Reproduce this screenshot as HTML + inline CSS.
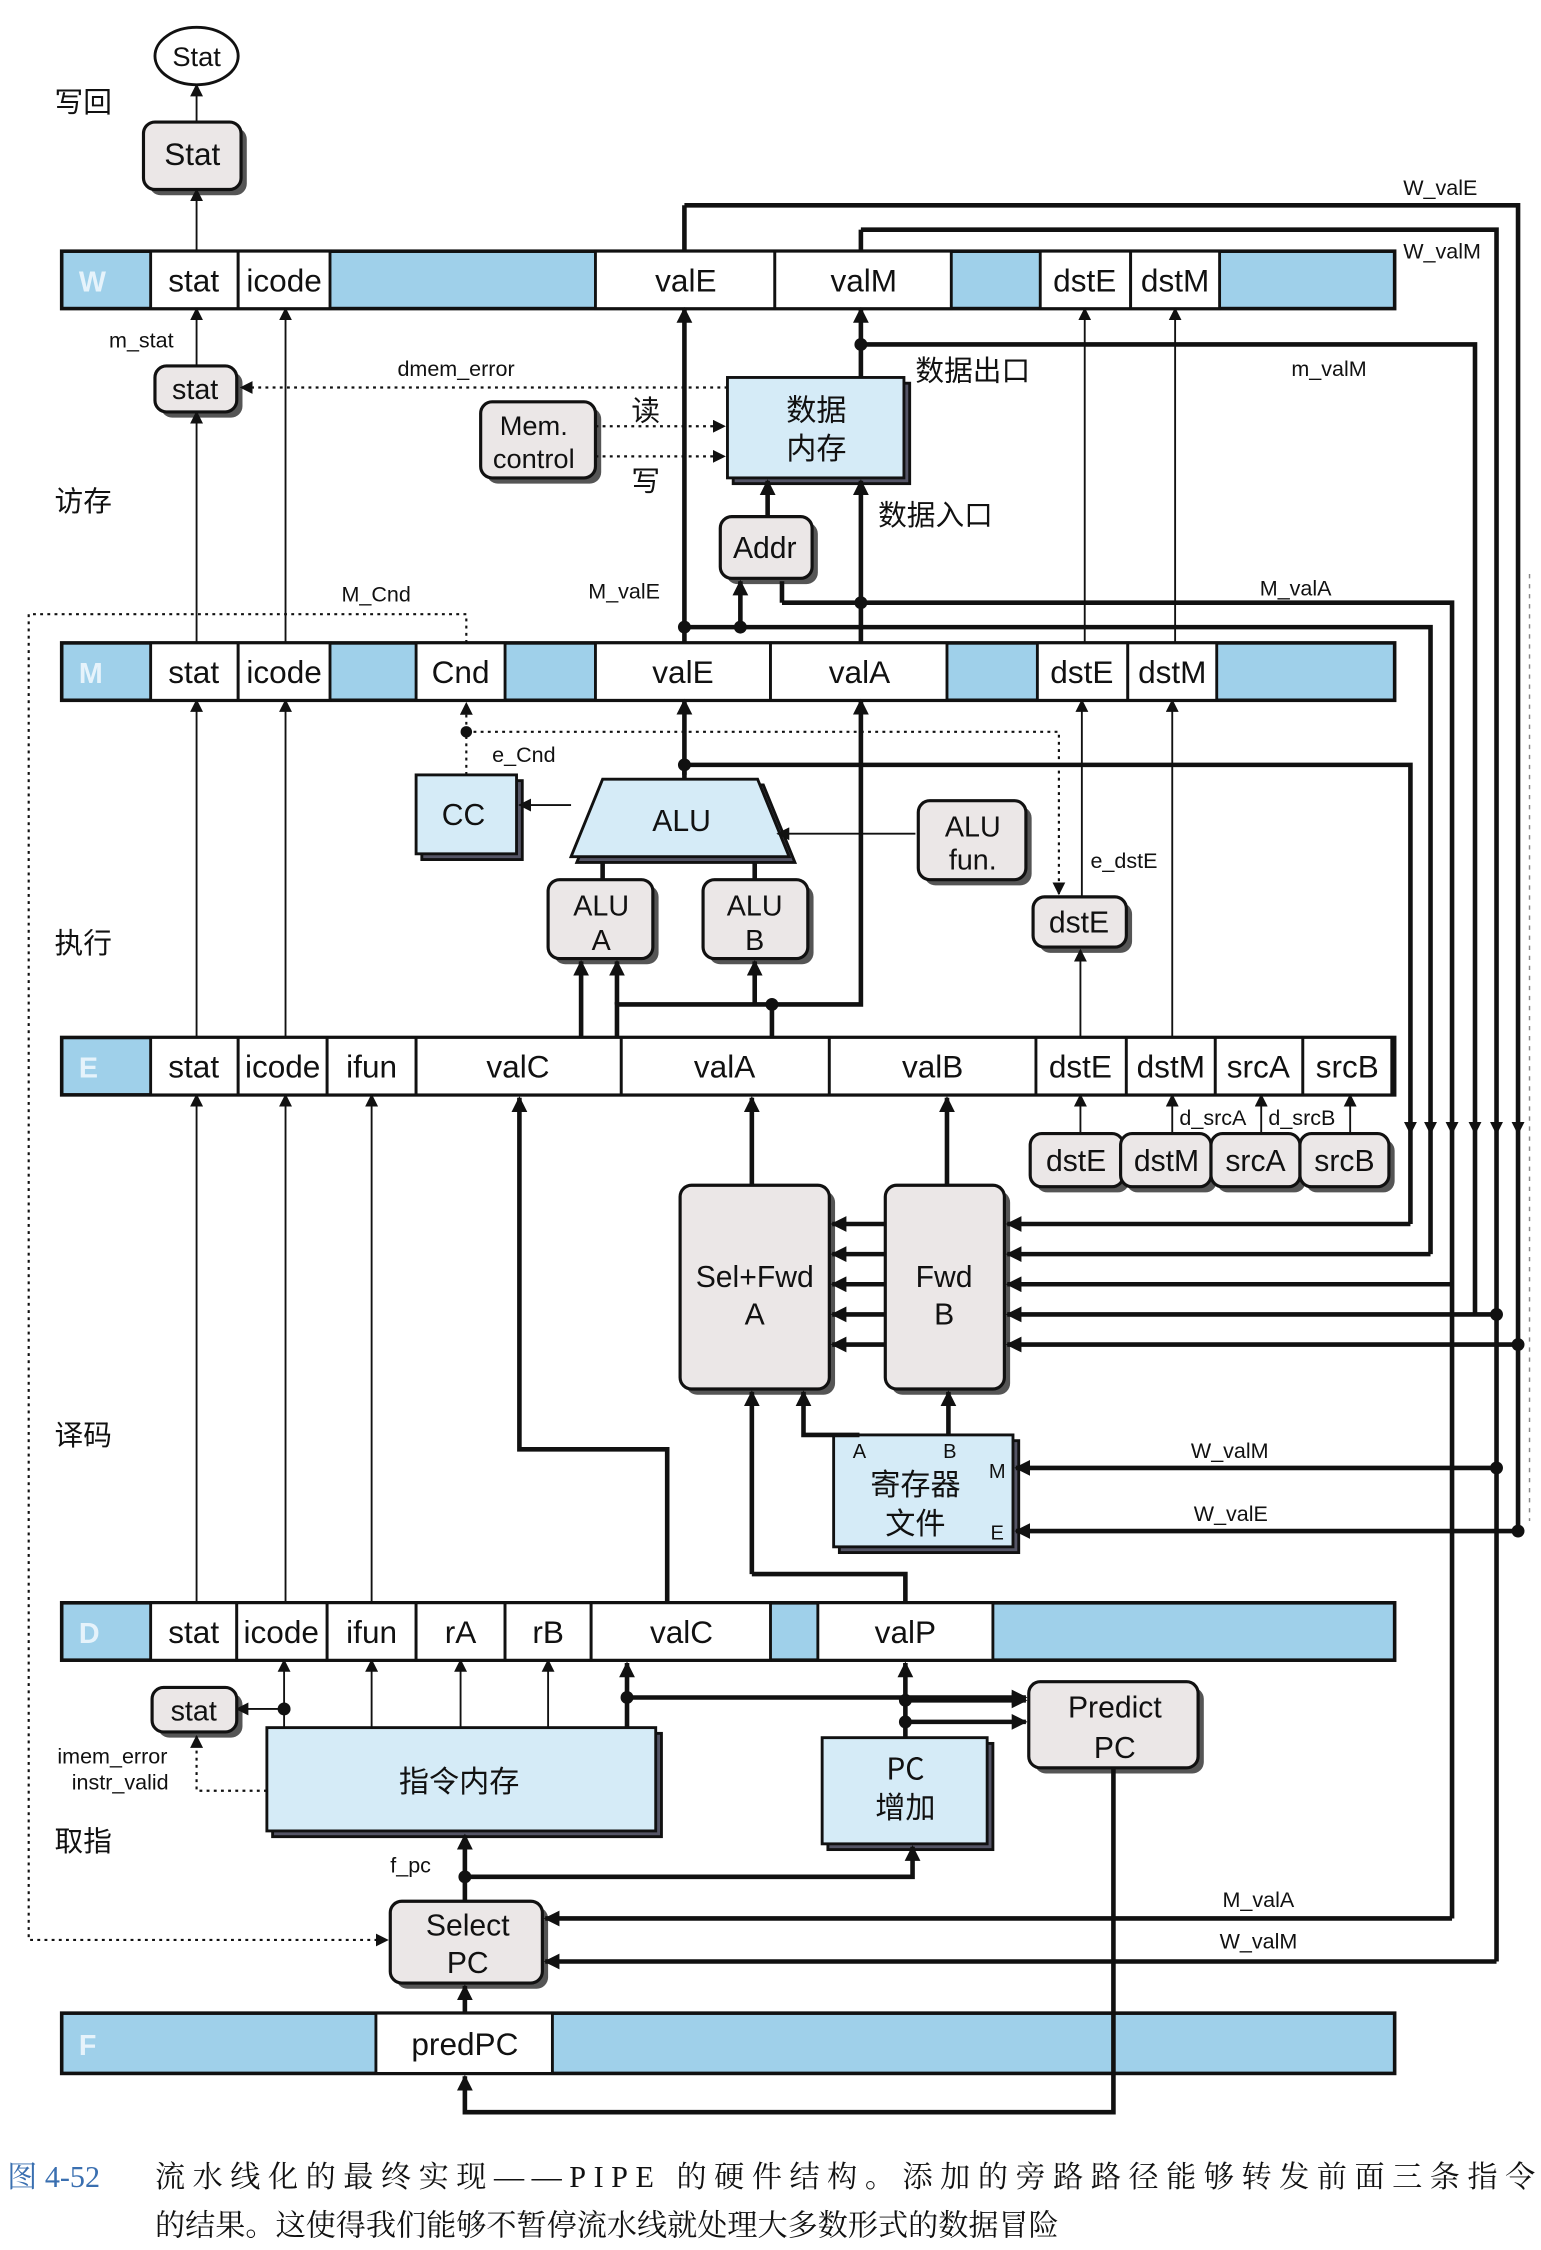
<!DOCTYPE html>
<html><head><meta charset="utf-8"><style>
html,body{margin:0;padding:0;background:#fff;}
svg{display:block;}
text{font-family:"Liberation Sans","Noto Sans CJK SC",sans-serif;fill:#111;}
.c{font-family:"Noto Sans CJK SC","WenQuanYi Zen Hei",sans-serif;}
</style></head><body>
<svg width="1541" height="2250" viewBox="0 0 1074 1568" xmlns="http://www.w3.org/2000/svg">
<defs>
<marker id="a" viewBox="0 0 10 10" refX="9" refY="5" markerWidth="9" markerHeight="9" markerUnits="userSpaceOnUse" orient="auto"><path d="M0,0L10,5L0,10z" fill="#111"/></marker>
<marker id="b" viewBox="0 0 10 10" refX="9" refY="5" markerWidth="11" markerHeight="11" markerUnits="userSpaceOnUse" orient="auto"><path d="M0,0L10,5L0,10z" fill="#111"/></marker>
</defs>
<rect width="1074" height="1568" fill="#fff"/>

<g stroke="#111" stroke-width="2.5">
<rect x="43" y="175" width="929" height="40" fill="#9fd0ea"/>
<rect x="43" y="448" width="929" height="40" fill="#9fd0ea"/>
<rect x="43" y="723" width="929" height="40" fill="#9fd0ea"/>
<rect x="43" y="1117" width="929" height="40" fill="#9fd0ea"/>
<rect x="43" y="1403" width="929" height="42" fill="#9fd0ea"/>
</g>
<g fill="#fff" stroke="#111" stroke-width="2">
<rect x="105" y="175" width="61" height="40"/><rect x="166" y="175" width="64" height="40"/>
<rect x="415" y="175" width="125" height="40"/><rect x="540" y="175" width="123" height="40"/>
<rect x="725" y="175" width="63" height="40"/><rect x="788" y="175" width="62" height="40"/>
<rect x="105" y="448" width="61" height="40"/><rect x="166" y="448" width="64" height="40"/>
<rect x="290" y="448" width="62" height="40"/>
<rect x="415" y="448" width="122" height="40"/><rect x="537" y="448" width="123" height="40"/>
<rect x="723" y="448" width="63" height="40"/><rect x="786" y="448" width="62" height="40"/>
<rect x="105" y="723" width="61" height="40"/><rect x="166" y="723" width="62" height="40"/>
<rect x="228" y="723" width="62" height="40"/><rect x="290" y="723" width="143" height="40"/>
<rect x="433" y="723" width="145" height="40"/><rect x="578" y="723" width="144" height="40"/>
<rect x="722" y="723" width="63" height="40"/><rect x="785" y="723" width="62" height="40"/>
<rect x="847" y="723" width="61" height="40"/><rect x="908" y="723" width="62" height="40"/>
<rect x="105" y="1117" width="60" height="40"/><rect x="165" y="1117" width="63" height="40"/>
<rect x="228" y="1117" width="62" height="40"/><rect x="290" y="1117" width="62" height="40"/>
<rect x="352" y="1117" width="60" height="40"/><rect x="412" y="1117" width="125" height="40"/>
<rect x="570" y="1117" width="122" height="40"/>
<rect x="262" y="1403" width="123" height="42"/>
</g>
<g font-size="22" text-anchor="middle">
<text x="135" y="203">stat</text><text x="198" y="203">icode</text><text x="478" y="203">valE</text><text x="602" y="203">valM</text><text x="756" y="203">dstE</text><text x="819" y="203">dstM</text>
<text x="135" y="476">stat</text><text x="198" y="476">icode</text><text x="321" y="476">Cnd</text><text x="476" y="476">valE</text><text x="599" y="476">valA</text><text x="754" y="476">dstE</text><text x="817" y="476">dstM</text>
<text x="135" y="751">stat</text><text x="197" y="751">icode</text><text x="259" y="751">ifun</text><text x="361" y="751">valC</text><text x="505" y="751">valA</text><text x="650" y="751">valB</text><text x="753" y="751">dstE</text><text x="816" y="751">dstM</text><text x="877" y="751">srcA</text><text x="939" y="751">srcB</text>
<text x="135" y="1145">stat</text><text x="196" y="1145">icode</text><text x="259" y="1145">ifun</text><text x="321" y="1145">rA</text><text x="382" y="1145">rB</text><text x="475" y="1145">valC</text><text x="631" y="1145">valP</text>
<text x="324" y="1432">predPC</text>
</g>
<g font-size="20" font-weight="bold">
<text x="55" y="203" fill="#e6f3fb" style="fill:#e6f3fb">W</text><text x="55" y="476" style="fill:#e6f3fb">M</text><text x="55" y="751" style="fill:#e6f3fb">E</text><text x="55" y="1145" style="fill:#e6f3fb">D</text><text x="55" y="1432" style="fill:#e6f3fb">F</text>
</g>

<g font-size="20">
<text x="38" y="78" class="c">写回</text><text x="38" y="356" class="c">访存</text><text x="38" y="664" class="c">执行</text><text x="38" y="1007" class="c">译码</text><text x="38" y="1290" class="c">取指</text>
</g>

<g>
<g fill="#555">
<rect x="104" y="89" width="68" height="47" rx="8"/><rect x="112" y="259" width="57" height="32" rx="8"/>
<rect x="339" y="284" width="80" height="53" rx="8"/><rect x="506" y="364" width="64" height="43" rx="8"/>
<rect x="644" y="562" width="75" height="55" rx="8"/><rect x="724" y="629" width="65" height="35" rx="8"/>
<rect x="386" y="617" width="73" height="55" rx="8"/><rect x="494" y="617" width="73" height="55" rx="8"/>
<rect x="478" y="830" width="104" height="142" rx="8"/><rect x="621" y="830" width="83" height="142" rx="8"/>
<rect x="110" y="1180" width="59" height="31" rx="8"/><rect x="721" y="1176" width="118" height="60" rx="8"/>
<rect x="276" y="1329" width="106" height="57" rx="8"/>
<rect x="722" y="794" width="65" height="37" rx="8"/><rect x="785" y="794" width="63" height="37" rx="8"/><rect x="848" y="794" width="62" height="37" rx="8"/><rect x="910" y="794" width="62" height="37" rx="8"/>
</g>
<g fill="#ebe7e7" stroke="#111" stroke-width="2.2">
<rect x="100" y="85" width="68" height="47" rx="8"/><rect x="108" y="255" width="57" height="32" rx="8"/>
<rect x="335" y="280" width="80" height="53" rx="8"/><rect x="502" y="360" width="64" height="43" rx="8"/>
<rect x="640" y="558" width="75" height="55" rx="8"/><rect x="720" y="625" width="65" height="35" rx="8"/>
<rect x="382" y="613" width="73" height="55" rx="8"/><rect x="490" y="613" width="73" height="55" rx="8"/>
<rect x="474" y="826" width="104" height="142" rx="8"/><rect x="617" y="826" width="83" height="142" rx="8"/>
<rect x="106" y="1176" width="59" height="31" rx="8"/><rect x="717" y="1172" width="118" height="60" rx="8"/>
<rect x="272" y="1325" width="106" height="57" rx="8"/>
<rect x="718" y="790" width="65" height="37" rx="8"/><rect x="781" y="790" width="63" height="37" rx="8"/><rect x="844" y="790" width="62" height="37" rx="8"/><rect x="906" y="790" width="62" height="37" rx="8"/>
</g>
</g>
<g fill="#d5ebf7" stroke="#111" stroke-width="2">
<rect x="511" y="267" width="123" height="70" fill="#556"/><rect x="507" y="263" width="123" height="70"/>
<rect x="294" y="544" width="70" height="55" fill="#556"/><rect x="290" y="540" width="70" height="55"/>
<rect x="585" y="1004" width="125" height="78" fill="#556"/><rect x="581" y="1000" width="125" height="78"/>
<rect x="190" y="1208" width="271" height="72" fill="#556"/><rect x="186" y="1204" width="271" height="72"/>
<rect x="577" y="1215" width="115" height="74" fill="#556"/><rect x="573" y="1211" width="115" height="74"/>
<path d="M424,547H532L554,601H402Z" fill="#556"/>
<path d="M420,543H528L550,597H398Z"/>
</g>

<g font-size="21" text-anchor="middle">
<ellipse cx="137" cy="39" rx="29" ry="20" fill="#fff" stroke="#111" stroke-width="2"/>
<text x="137" y="46" font-size="19">Stat</text>
<text x="134" y="115" font-size="22">Stat</text>
<text x="136" y="278" font-size="20">stat</text>
<text x="372" y="303" font-size="19">Mem.</text><text x="372" y="326" font-size="19">control</text>
<text x="569" y="293" class="c">数据</text><text x="569" y="320" class="c">内存</text>
<text x="533" y="389">Addr</text>
<text x="323" y="575">CC</text><text x="475" y="579">ALU</text>
<text x="678" y="583" font-size="20">ALU</text><text x="678" y="606" font-size="20">fun.</text>
<text x="752" y="650">dstE</text>
<text x="419" y="638" font-size="20">ALU</text><text x="419" y="662" font-size="20">A</text>
<text x="526" y="638" font-size="20">ALU</text><text x="526" y="662" font-size="20">B</text>
<text x="750" y="816">dstE</text><text x="813" y="816">dstM</text><text x="875" y="816">srcA</text><text x="937" y="816">srcB</text>
<text x="526" y="897">Sel+Fwd</text><text x="526" y="923">A</text>
<text x="658" y="897">Fwd</text><text x="658" y="923">B</text>
<text x="638" y="1042" class="c">寄存器</text><text x="638" y="1069" class="c">文件</text>
<text x="599" y="1016" font-size="14">A</text><text x="662" y="1016" font-size="14">B</text><text x="695" y="1030" font-size="14">M</text><text x="695" y="1073" font-size="14">E</text>
<text x="135" y="1199" font-size="20">stat</text>
<text x="320" y="1249" class="c">指令内存</text>
<text x="631" y="1240" class="c">PC</text><text x="631" y="1267" class="c">增加</text>
<text x="777" y="1197">Predict</text><text x="777" y="1225">PC</text>
<text x="326" y="1349">Select</text><text x="326" y="1375">PC</text>
</g>

<g font-size="15">
<text x="76" y="242">m_stat</text><text x="277" y="262">dmem_error</text>
<text x="238" y="419">M_Cnd</text><text x="410" y="417">M_valE</text><text x="878" y="415">M_valA</text>
<text x="900" y="262">m_valM</text><text x="978" y="136">W_valE</text><text x="978" y="180">W_valM</text>
<text x="343" y="531">e_Cnd</text><text x="760" y="605">e_dstE</text>
<text x="822" y="784">d_srcA</text><text x="884" y="784">d_srcB</text>
<text x="830" y="1016">W_valM</text><text x="832" y="1060">W_valE</text>
<text x="40" y="1229">imem_error</text><text x="50" y="1247">instr_valid</text>
<text x="272" y="1305">f_pc</text><text x="852" y="1329">M_valA</text><text x="850" y="1358">W_valM</text>
</g>
<g font-size="20">
<text x="638" y="265" class="c">数据出口</text><text x="612" y="366" class="c">数据入口</text>
<text x="440" y="293" class="c">读</text><text x="440" y="342" class="c">写</text>
</g>

<g stroke="#111" stroke-width="1.3" fill="none" marker-end="url(#a)">
<path d="M137,85V59"/><path d="M137,175V132"/><path d="M137,255V215"/><path d="M199,448V215"/>
<path d="M137,448V287"/><path d="M756,448V215"/><path d="M819,448V215"/>
<path d="M137,723V488"/><path d="M199,723V488"/><path d="M754,625V488"/><path d="M817,723V488"/>
<path d="M137,1117V763"/><path d="M199,1117V763"/><path d="M259,1117V763"/>
<path d="M753,723V662"/><path d="M753,790V763"/>
<path d="M817,790V763"/><path d="M879,790V763"/><path d="M941,790V763"/>
<path d="M398,561H362"/><path d="M638,581H542"/><path d="M198,1191H165"/>
<path d="M198,1204V1157"/><path d="M259,1204V1157"/><path d="M321,1204V1157"/><path d="M382,1204V1157"/>
</g>
<g stroke="#111" stroke-width="1.5" fill="none" stroke-dasharray="2,3">
<path d="M507,270H168" marker-end="url(#a)"/>
<path d="M415,297H505" marker-end="url(#a)"/><path d="M415,318H505" marker-end="url(#a)"/>
<path d="M325,540V490" marker-end="url(#a)"/>
<path d="M325,510H738V623" marker-end="url(#a)"/>
<path d="M325,448V428H20V1352H270" marker-end="url(#a)"/>
<path d="M186,1248H137V1210" marker-end="url(#a)"/>
</g>
<circle cx="325" cy="510" r="4" fill="#111"/>

<g stroke="#111" stroke-width="3.2" fill="none">
<path d="M477,448V215" marker-end="url(#b)"/>
<path d="M600,263V215" marker-end="url(#b)"/>
<path d="M600,448V335" marker-end="url(#b)"/>
<path d="M535,360V335" marker-end="url(#b)"/>
<path d="M516,437V405" marker-end="url(#b)"/>
<path d="M477,437H997V874" />
<path d="M545,420H1012V1337" /> <path d="M545,420V405"/>
<path d="M477,143H1058V1067"/><path d="M477,175V143"/>
<path d="M600,160H1043V1367"/><path d="M600,175V160"/>
<path d="M600,240H1028V916"/>
<path d="M477,533H983V853"/>
<path d="M477,540V488" marker-end="url(#b)"/>
<path d="M477,533V543"/>
<path d="M420,613V600M526,613V600"/>
<path d="M405,723V670" marker-end="url(#b)"/>
<path d="M430,723V700H600V488" marker-end="url(#b)"/>
<path d="M526,700V670" marker-end="url(#b)"/>
<path d="M430,700V670" marker-end="url(#b)"/>
<path d="M538,700V723"/>
<path d="M524,826V765" marker-end="url(#b)"/>
<path d="M660,826V765" marker-end="url(#b)"/>
<path d="M524,1097V970" marker-end="url(#b)"/><path d="M524,1097H631V1117"/>
<path d="M661,1000V970" marker-end="url(#b)"/>
<path d="M599,1000H560V970" marker-end="url(#b)"/>
<path d="M465,1117V1010H362V765" marker-end="url(#b)"/>
<path d="M1043,1023H708" marker-end="url(#b)"/>
<path d="M1058,1067H708" marker-end="url(#b)"/>
<path d="M631,1211V1159" marker-end="url(#b)"/>
<path d="M631,1185H715" marker-end="url(#b)"/><path d="M631,1200H715" marker-end="url(#b)"/>
<path d="M437,1204V1159" marker-end="url(#b)"/><path d="M437,1183H715" marker-end="url(#b)"/>
<path d="M324,1325V1279" marker-end="url(#b)"/>
<path d="M324,1308H636V1287" marker-end="url(#b)"/>
<path d="M324,1403V1384" marker-end="url(#b)"/>
<path d="M776,1232V1472H324V1447" marker-end="url(#b)"/>
<path d="M1012,1337H380" marker-end="url(#b)"/>
<path d="M1043,1367H380" marker-end="url(#b)"/>
<path d="M983,853H702" marker-end="url(#b)"/><path d="M997,874H702" marker-end="url(#b)"/>
<path d="M1012,895H702" marker-end="url(#b)"/><path d="M1028,916H702" marker-end="url(#b)"/>
<path d="M1043,916H1028"/><path d="M1058,937H702" marker-end="url(#b)"/>
<path d="M617,853H580" marker-end="url(#b)"/><path d="M617,874H580" marker-end="url(#b)"/>
<path d="M617,895H580" marker-end="url(#b)"/><path d="M617,916H580" marker-end="url(#b)"/>
<path d="M617,937H580" marker-end="url(#b)"/>
</g>
<g stroke="#111" stroke-width="1.2" fill="none" marker-end="url(#a)">
<path d="M983,760V790"/><path d="M997,760V790"/><path d="M1012,760V790"/><path d="M1028,760V790"/><path d="M1043,760V790"/><path d="M1058,760V790"/>
</g>
<path d="M1066,400V1060" stroke="#888" stroke-width="1" stroke-dasharray="3,4" fill="none"/>
<g fill="#111">
<circle cx="600" cy="240" r="4.5"/><circle cx="477" cy="437" r="4.5"/><circle cx="516" cy="437" r="4.5"/><circle cx="600" cy="420" r="4.5"/>
<circle cx="477" cy="533" r="4.5"/><circle cx="538" cy="700" r="4.5"/><circle cx="1043" cy="916" r="4.5"/><circle cx="1058" cy="937" r="4.5"/>
<circle cx="1043" cy="1023" r="4.5"/><circle cx="1058" cy="1067" r="4.5"/>
<circle cx="198" cy="1191" r="4.5"/><circle cx="437" cy="1183" r="4.5"/><circle cx="631" cy="1185" r="4.5"/><circle cx="631" cy="1200" r="4.5"/>
<circle cx="324" cy="1308" r="4.5"/>
</g>

<text x="5" y="1524" font-size="21" style="font-family:'Liberation Serif','Noto Serif CJK SC',serif;fill:#3a6fb0">图 4-52</text>
<text x="108" y="1524" font-size="21" style="font-family:'Liberation Serif','Noto Serif CJK SC',serif;" textLength="962">流水线化的最终实现——PIPE 的硬件结构。添加的旁路路径能够转发前面三条指令</text>
<text x="108" y="1558" font-size="21" style="font-family:'Liberation Serif','Noto Serif CJK SC',serif;">的结果。这使得我们能够不暂停流水线就处理大多数形式的数据冒险</text>
</svg>
</body></html>
